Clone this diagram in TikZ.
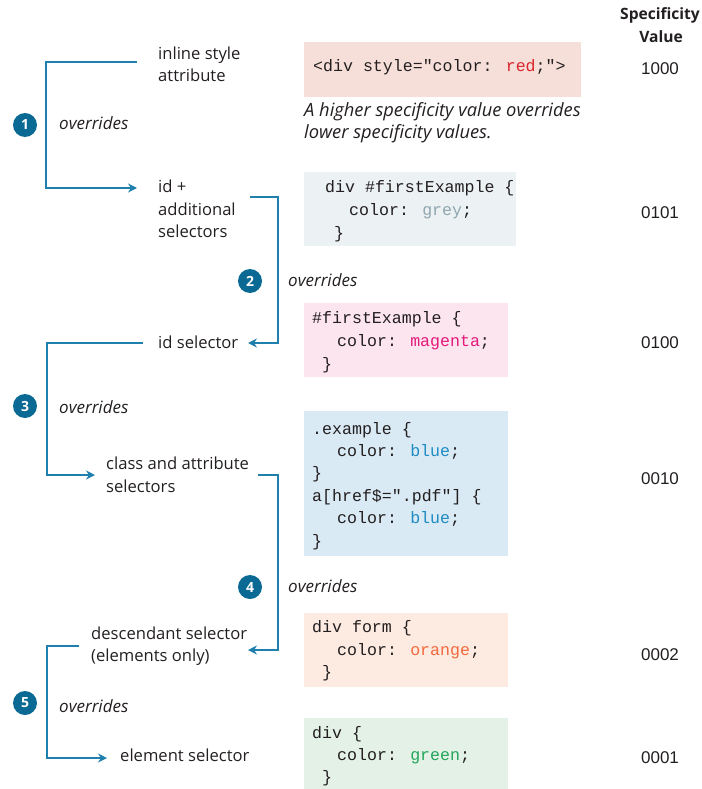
\documentclass[tikz,border=0pt]{standalone}
\usepackage{fontspec}
\setmainfont{Open Sans}
\newfontfamily\codefont{Liberation Mono}
\newfontfamily\numfont{Liberation Sans}
\usetikzlibrary{arrows.meta}
\definecolor{txt}{HTML}{231F20}
\definecolor{conncol}{HTML}{1F7FAD}
\definecolor{badgecol}{HTML}{0B6A93}
\definecolor{redbg}{HTML}{F7DFD9}
\definecolor{greybg}{HTML}{ECF1F3}
\definecolor{pinkbg}{HTML}{FCE5EF}
\definecolor{bluebg}{HTML}{D9EAF4}
\definecolor{orangebg}{HTML}{FDEAE0}
\definecolor{greenbg}{HTML}{E3F1E7}
\definecolor{cred}{HTML}{D9262C}
\definecolor{cgrey}{HTML}{8FA6B0}
\definecolor{cmag}{HTML}{E3197B}
\definecolor{cblue}{HTML}{1E8BC3}
\definecolor{corange}{HTML}{F26A3D}
\definecolor{cgreen}{HTML}{22A65A}
\tikzset{
  lbl/.style={font=\fontsize{16.6}{20}\selectfont, anchor=base west, inner sep=0pt, text=txt},
  ovr/.style={font=\itshape\fontsize{17}{20}\selectfont, anchor=base west, inner sep=0pt, text=txt},
  captext/.style={font=\itshape\fontsize{18.3}{22}\selectfont, anchor=base west, inner sep=0pt, text=txt},
  code/.style={font=\codefont\fontsize{16.6}{20}\selectfont, anchor=base west, inner sep=0pt, text=txt},
  val/.style={font=\numfont\fontsize{17}{20}\selectfont, anchor=base, inner sep=0pt, text=txt},
  head/.style={font=\bfseries\fontsize{15.6}{18}\selectfont, anchor=base, inner sep=0pt, text=txt},
  codebox/.style={anchor=north west, inner sep=0pt, draw=none},
  badge/.style={circle, fill=badgecol, minimum size=24pt, inner sep=0pt, text=white, font=\bfseries\fontsize{14}{16}\selectfont},
  conn/.style={draw=conncol, line width=2pt, -{Stealth[length=9pt,width=9pt,inset=3pt]}},
}
\begin{document}
\begin{tikzpicture}[x=1pt,y=-1pt]
\useasboundingbox (0,0) rectangle (701,789);

% header
\node[head] (h1) at (660,20) {Specificity};
\node[head] (h2) at (661,43) {Value};

% code boxes
\node[codebox, fill=redbg, minimum width=277pt, minimum height=55pt] (b1) at (304,42) {};
\node[codebox, fill=greybg, minimum width=212pt, minimum height=74pt] (b2) at (304,172) {};
\node[codebox, fill=pinkbg, minimum width=204pt, minimum height=74pt] (b3) at (304,303) {};
\node[codebox, fill=bluebg, minimum width=204pt, minimum height=145pt] (b4) at (304,411) {};
\node[codebox, fill=orangebg, minimum width=204pt, minimum height=74pt] (b5) at (304,613) {};
\node[codebox, fill=greenbg, minimum width=204pt, minimum height=72pt] (b6) at (304,718) {};

% code lines
\node[code] (k1) at (313,72) {<div style="color: \textcolor{cred}{red};">};
\node[code] (k2a) at (325,192) {div \#firstExample \{};
\node[code] (k2b) at (349,215) {color: \textcolor{cgrey}{grey};};
\node[code] (k2c) at (334,238) {\}};
\node[code] (k3a) at (312,323) {\#firstExample \{};
\node[code] (k3b) at (337,346) {color: \textcolor{cmag}{magenta};};
\node[code] (k3c) at (322,369) {\}};
\node[code] (k4a) at (312,434) {.example \{};
\node[code] (k4b) at (337,456) {color: \textcolor{cblue}{blue};};
\node[code] (k4c) at (312,478) {\}};
\node[code] (k4d) at (312,501) {a[href\$=".pdf"] \{};
\node[code] (k4e) at (337,523) {color: \textcolor{cblue}{blue};};
\node[code] (k4f) at (312,546) {\}};
\node[code] (k5a) at (312,632) {div form \{};
\node[code] (k5b) at (337,655) {color: \textcolor{corange}{orange};};
\node[code] (k5c) at (322,677) {\}};
\node[code] (k6a) at (312,738) {div \{};
\node[code] (k6b) at (337,760) {color: \textcolor{cgreen}{green};};
\node[code] (k6c) at (322,782) {\}};

% caption
\node[captext] (cp1) at (304,117) {A higher specificity value overrides};
\node[captext] (cp2) at (304,139) {lower specificity values.};

% values
\node[val] (v1) at (660,75) {1000};
\node[val] (v2) at (660,218) {0101};
\node[val] (v3) at (660,348) {0100};
\node[val] (v4) at (660,484) {0010};
\node[val] (v5) at (660,660) {0002};
\node[val] (v6) at (660,763) {0001};

% selector labels
\node[lbl] (l1a) at (158,60) {inline style};
\node[lbl] (l1b) at (158,82) {attribute};
\node[lbl] (l2a) at (158,192) {id +};
\node[lbl] (l2b) at (158,215) {additional};
\node[lbl] (l2c) at (158,237) {selectors};
\node[lbl] (l3) at (158,348) {id selector};
\node[lbl] (l4a) at (106,469) {class and attribute};
\node[lbl] (l4b) at (106,492) {selectors};
\node[lbl] (l5a) at (91,639) {descendant selector};
\node[lbl] (l5b) at (91,661) {(elements only)};
\node[lbl] (l6) at (120,761) {element selector};

% badges and overrides
\node[badge] (n1) at (25,125) {1};
\node[badge] (n2) at (250,281) {2};
\node[badge] (n3) at (25,406) {3};
\node[badge] (n4) at (250,587) {4};
\node[badge] (n5) at (25,703) {5};
\node[ovr] (o1) at (59,129) {overrides};
\node[ovr] (o2) at (288,286) {overrides};
\node[ovr] (o3) at (59,413) {overrides};
\node[ovr] (o4) at (288,592) {overrides};
\node[ovr] (o5) at (59,712) {overrides};

% connector end points
\coordinate (s1) at (137,62);  \coordinate (e1) at (137,188);
\coordinate (s2) at (250,197); \coordinate (e2) at (248,343);
\coordinate (s3) at (143,343); \coordinate (e3) at (95,475);
\coordinate (s4) at (258,475); \coordinate (e4) at (248,650);
\coordinate (s5) at (79,646);  \coordinate (e5) at (107,758);

\draw[conn] (s1) -- (46,62) -- (46,188) -- (e1);
\draw[conn] (s2) -- (278,197) -- (278,343) -- (e2);
\draw[conn] (s3) -- (47,343) -- (47,475) -- (e3);
\draw[conn] (s4) -- (278,475) -- (278,650) -- (e4);
\draw[conn] (s5) -- (47,646) -- (47,758) -- (e5);
\end{tikzpicture}
\end{document}
